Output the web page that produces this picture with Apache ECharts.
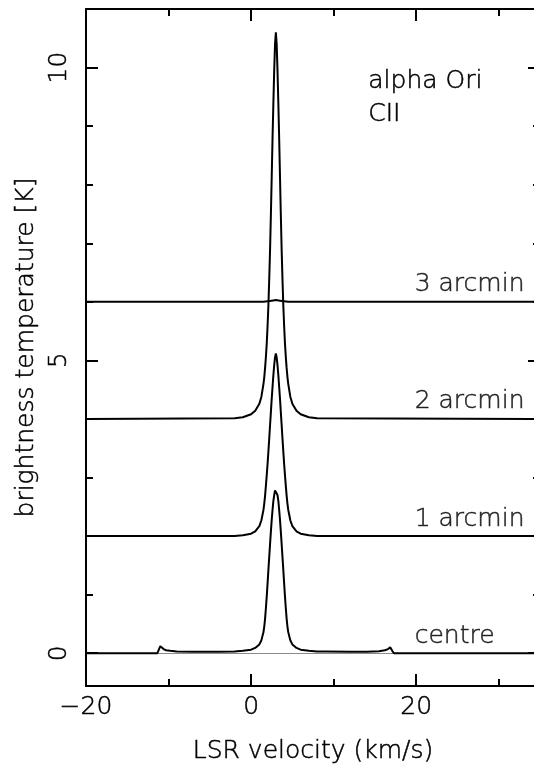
<!DOCTYPE html>
<html><head><meta charset="utf-8">
<script src="https://cdn.jsdelivr.net/npm/echarts@6/dist/echarts.min.js"></script>
<style>html,body{margin:0;padding:0;background:#fff}#c{width:534px;height:767px}</style>
</head><body><div id="c"></div>
<script>
// ---- data ----
var centreVel = [-20, -11.35, -11.15, -11.0, -10.85, -10.6, -10.3, -9.8, -9, -7, -4,
  -2, -1, 0, 0.5, 1, 1.25, 1.5, 1.6, 1.7, 1.8, 1.9, 2.0, 2.1, 2.2, 2.3, 2.4, 2.5, 2.6, 2.7, 2.8, 2.9, 3.0,
  3.1, 3.2, 3.3, 3.4, 3.5, 3.6, 3.7, 3.8, 3.9, 4.0, 4.1, 4.2, 4.3, 4.4, 4.5, 4.75, 5, 5.5, 6, 7, 8,
  9, 12, 14, 15.5, 16.2, 16.6, 16.85, 16.95, 17.1, 17.3, 35];
var centreTemp = [0, 0, 0.07, 0.12, 0.10, 0.07, 0.05, 0.04, 0.03, 0.025, 0.025,
  0.03, 0.04, 0.06, 0.09, 0.15, 0.22, 0.36, 0.46, 0.6, 0.78, 0.98, 1.2, 1.43, 1.65, 1.87, 2.08, 2.28, 2.45, 2.6, 2.7, 2.78, 2.81,
  2.78, 2.7, 2.6, 2.45, 2.28, 2.08, 1.87, 1.65, 1.43, 1.2, 0.98, 0.78, 0.6, 0.46, 0.36, 0.22, 0.15, 0.09, 0.06, 0.04, 0.03,
  0.03, 0.025, 0.025, 0.035, 0.05, 0.07, 0.10, 0.12, 0.04, 0, 0];
var profileVel = [-20, -2, -1, 0, 0.5, 1, 1.25, 1.5, 1.6, 1.7, 1.8, 1.9, 2.0, 2.1, 2.2, 2.3, 2.4, 2.5, 2.6, 2.7, 2.8, 2.9, 3.0,
  3.1, 3.2, 3.3, 3.4, 3.5, 3.6, 3.7, 3.8, 3.9, 4.0, 4.1, 4.2, 4.3, 4.4, 4.5, 4.75, 5, 5.5, 6, 7, 8, 35];
var oneTemp = [2, 2, 2.015, 2.04, 2.08, 2.17, 2.27, 2.45, 2.56, 2.7, 2.87, 3.05, 3.24, 3.45, 3.67, 3.9, 4.12, 4.35, 4.55, 4.75, 4.92, 5.05, 5.12,
  5.05, 4.92, 4.75, 4.55, 4.35, 4.12, 3.9, 3.67, 3.45, 3.24, 3.05, 2.87, 2.7, 2.56, 2.45, 2.27, 2.17, 2.08, 2.04, 2.015, 2, 2];
var twoTemp = [4, 4.01, 4.03, 4.08, 4.14, 4.26, 4.38, 4.6, 4.72, 4.88, 5.07, 5.3, 5.6, 5.95, 6.4, 6.9, 7.5, 8.15, 8.8, 9.4, 9.95, 10.4, 10.6,
  10.4, 9.95, 9.4, 8.8, 8.15, 7.5, 6.9, 6.4, 5.95, 5.6, 5.3, 5.07, 4.88, 4.72, 4.6, 4.38, 4.26, 4.14, 4.08, 4.03, 4.01, 4];
var threeVel = [-20, 1.5, 2.5, 3, 3.5, 4.5, 35];
var threeTemp = [6, 6, 6.02, 6.03, 6.02, 6, 6];
var curveLabels = ['centre', '1 arcmin', '2 arcmin', '3 arcmin'];
var curveBaselines = [0, 2, 4, 6];
var labelVel = 20;
var yMajorTicks = [0, 5, 10];
var yMinorTicks = [1, 2, 3, 4, 6, 7, 8, 9];

function zip(a, b) { return a.map(function (v, i) { return [v, b[i]]; }); }

var FONT = 'DejaVu Sans';
var FW = 200;
var FS = 25;
var TB = {textBorderColor: '#000', textBorderWidth: 0.5};
var chart = echarts.init(document.getElementById('c'), null, {renderer: 'canvas'});

var xRange = {min: -20, max: 35};
var yRange = {min: -0.56, max: 11};

function txt(extra) {
  var o = {color: '#000', fontFamily: FONT, fontWeight: FW, fontSize: FS,
    textBorderColor: TB.textBorderColor, textBorderWidth: TB.textBorderWidth};
  for (var k in extra) o[k] = extra[k];
  return o;
}

function xAx(pos, withLabels) {
  return {
    type: 'value', position: pos, min: xRange.min, max: xRange.max, interval: 20,
    axisLine: {show: true, onZero: false, lineStyle: {color: '#000', width: 2}},
    axisTick: {show: true, inside: true, length: 12, lineStyle: {color: '#000', width: 2}},
    minorTick: {show: true, splitNumber: 2, length: 7, lineStyle: {color: '#000', width: 2}},
    splitLine: {show: false},
    axisLabel: withLabels ? txt({
      show: true, showMaxLabel: false, margin: 9,
      formatter: function (v) { return v < 0 ? '\u2212' + Math.abs(v) : String(v); }
    }) : {show: false},
    name: withLabels ? 'LSR velocity (km/s)' : '',
    nameLocation: 'middle', nameGap: 53,
    nameTextStyle: txt({})
  };
}
function yAx(pos, ticks, len, lineShow, withLabels) {
  return {
    type: 'value', position: pos, min: yRange.min, max: yRange.max,
    axisLine: {show: lineShow, onZero: false, lineStyle: {color: '#000', width: 2}},
    axisTick: {show: true, inside: true, length: len, customValues: ticks, lineStyle: {color: '#000', width: 2}},
    splitLine: {show: false},
    axisLabel: withLabels ? txt({show: true, customValues: yMajorTicks, rotate: 90, margin: 14}) : {show: false},
    name: withLabels ? 'brightness temperature [K]' : '',
    nameLocation: 'middle', nameGap: 47,
    nameTextStyle: txt({})
  };
}

function curve(name, vel, temp) {
  return {
    type: 'line', name: name, data: zip(vel, temp), showSymbol: false, symbol: 'none',
    xAxisIndex: 0, yAxisIndex: 0, z: 3, clip: true,
    lineStyle: {color: '#000', width: 2}
  };
}

var centreSeries = curve('centre', centreVel, centreTemp);
centreSeries.markLine = {
  silent: true, symbol: 'none', z: 1, label: {show: false},
  lineStyle: {color: '#8a8a8a', width: 1, type: 'solid'},
  data: [{yAxis: 0}]
};

chart.setOption({
  animation: false,
  backgroundColor: '#fff',
  grid: {left: 86, top: 9, width: 454, height: 677, containLabel: false, outerBoundsMode: 'none'},
  xAxis: [xAx('bottom', true), xAx('top', false)],
  yAxis: [
    yAx('left', yMajorTicks, 12, true, true),
    yAx('left', yMinorTicks, 7, false, false),
    yAx('right', yMajorTicks, 12, true, false),
    yAx('right', yMinorTicks, 7, false, false)
  ],
  series: [
    centreSeries,
    curve('1 arcmin', profileVel, oneTemp),
    curve('2 arcmin', profileVel, twoTemp),
    curve('3 arcmin', threeVel, threeTemp),
    {
      type: 'scatter', xAxisIndex: 0, yAxisIndex: 0, symbolSize: 1, silent: true, z: 4,
      itemStyle: {color: 'rgba(0,0,0,0)'},
      data: curveLabels.map(function (t, i) { return [labelVel, curveBaselines[i], t]; }),
      label: txt({
        show: true, position: [0, 0], align: 'left', verticalAlign: 'bottom', offset: [-1, -4],
        formatter: function (p) { return p.data[2]; }
      })
    }
  ],
  graphic: [{
    type: 'text', left: 368, top: 65, silent: true,
    style: {text: 'alpha Ori\nCII', fill: '#000', stroke: '#000', lineWidth: 0.5,
      fontFamily: FONT, fontWeight: FW, fontSize: FS, lineHeight: 33}
  }]
});
</script>
</body></html>
